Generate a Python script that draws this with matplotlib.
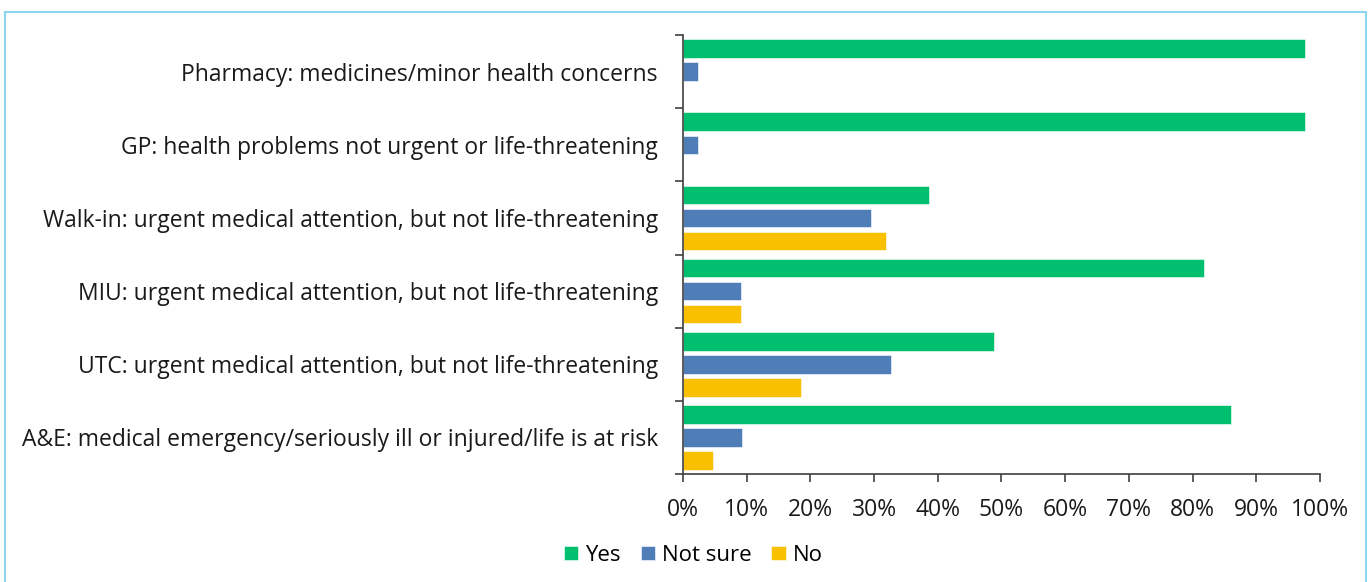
import numpy as np
import matplotlib
matplotlib.use("Agg")
import matplotlib.pyplot as plt
from matplotlib.patches import Rectangle
from matplotlib.ticker import FuncFormatter, FixedLocator

plt.rcParams['font.family'] = ['Open Sans', 'DejaVu Sans']

# data (percent of respondents)
categories = [
    "Pharmacy: medicines/minor health concerns",
    "GP: health problems not urgent or life-threatening",
    "Walk-in: urgent medical attention, but not life-threatening",
    "MIU: urgent medical attention, but not life-threatening",
    "UTC: urgent medical attention, but not life-threatening",
    "A&E: medical emergency/seriously ill or injured/life is at risk",
]
yes = [97.7, 97.7, 38.6, 81.8, 48.8, 86.0]
not_sure = [2.3, 2.3, 29.5, 9.1, 32.6, 9.3]
no = [0.0, 0.0, 31.8, 9.1, 18.6, 4.7]

series_names = ["Yes", "Not sure", "No"]
colors = ["#00BF6F", "#4F7DB8", "#F9C000"]

fig = plt.figure(figsize=(13.7, 5.82), dpi=100)
ax = fig.add_axes([0.4985, 0.1856, 0.465, 0.754])

y = np.arange(len(categories))
step = 0.315
height = 0.255
for i, (vals, name, c) in enumerate(zip([yes, not_sure, no], series_names, colors)):
    v = np.array(vals) / 100.0
    ax.barh(y + (i - 1) * step, v, height=height, color=c, label=name,
            edgecolor="white", linewidth=0.4)

ax.set_xlim(0, 1)
ax.set_ylim(len(categories) - 0.5, -0.5)

ax.set_xticks(np.arange(0, 1.01, 0.1))
ax.xaxis.set_major_formatter(FuncFormatter(lambda v, p: f"{v*100:.0f}%"))
ax.tick_params(axis="x", length=6, width=1.2, color="#404040", pad=11,
               labelsize=16.5, labelcolor="#1a1a1a")

ax.yaxis.set_major_locator(FixedLocator(np.arange(-0.5, len(categories), 1)))
ax.yaxis.set_major_formatter(FuncFormatter(lambda v, p: ""))
ax.yaxis.set_minor_locator(FixedLocator(y))
ax.set_yticklabels(categories, minor=True)
ax.tick_params(axis="y", which="major", length=6, width=1.2, color="#404040")
ax.tick_params(axis="y", which="minor", length=0, pad=18, labelsize=16.5,
               labelcolor="#1a1a1a")

for s in ["top", "right"]:
    ax.spines[s].set_visible(False)
for s in ["left", "bottom"]:
    ax.spines[s].set_color("#404040")
    ax.spines[s].set_linewidth(1.2)

leg = fig.legend(loc="center", bbox_to_anchor=(0.506, 0.046), ncol=3,
                 frameon=False, fontsize=16, handlelength=0.65, handleheight=0.65,
                 handletextpad=0.3, columnspacing=0.9)

# light blue frame around the chart
fig.patches.append(Rectangle((5 / 1370, -0.05), 1361 / 1370, 1 - 12 / 582 + 0.05,
                             transform=fig.transFigure, fill=False,
                             edgecolor="#8ED6F0", linewidth=1.5))

fig.savefig("out.png", dpi=100)
